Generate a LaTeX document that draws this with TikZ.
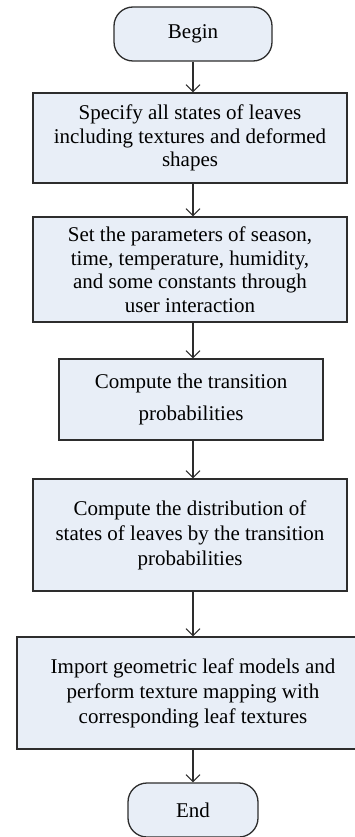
\documentclass[tikz,border=0pt]{standalone}
\usepackage{fontspec}
\setmainfont{Liberation Serif}
\usetikzlibrary{arrows.meta}
\definecolor{boxfill}{RGB}{232,238,247}
\definecolor{boxline}{RGB}{45,45,45}
\begin{document}
\begin{tikzpicture}[
    x=1pt, y=1pt,
    terminal/.style={rectangle, draw=boxline, line width=1.3pt, rounded corners=19pt, fill=boxfill, inner sep=0pt, align=center, font=\fontsize{21}{23.5}\selectfont},
    process/.style={rectangle, draw=boxline, line width=1.3pt, fill=boxfill, inner sep=0pt, align=center, font=\fontsize{21}{23.5}\selectfont},
    arrow/.style={-{Straight Barb[length=7pt, width=14pt, line width=1pt]}, line width=1.2pt, draw=boxline},
]
    \useasboundingbox (0,0) rectangle (354,-837);

    % Start
    \node[terminal, minimum width=158pt, minimum height=54pt] (begin) at (193,-34) {Begin};

    % Steps
    \node[process, minimum width=314pt, minimum height=90pt] (specify) at (190,-138)
        {Specify all states of leaves\\including textures and deformed\\shapes};
    \node[process, minimum width=314pt, minimum height=105pt] (params) at (190,-269.5)
        {Set the parameters of season,\\time, temperature, humidity,\\and some constants through\\user interaction};
    \node[process, minimum width=264pt, minimum height=81pt, font=\fontsize{21}{32}\selectfont] (probs) at (191,-399.5)
        {Compute the transition\\probabilities};
    \node[process, minimum width=314pt, minimum height=112pt, font=\fontsize{21}{25}\selectfont] (distrib) at (190,-535)
        {Compute the distribution of\\states of leaves by the transition\\probabilities};
    \node[process, minimum width=352pt, minimum height=112pt, font=\fontsize{21}{25}\selectfont] (mapping) at (193,-693)
        {Import geometric leaf models and\\perform texture mapping with\\corresponding leaf textures};

    % Stop
    \node[terminal, minimum width=130pt, minimum height=54pt] (end) at (193,-810) {End};

    % Flow
    \draw[arrow] (begin.south) -- (begin.south |- specify.north);
    \draw[arrow] (begin.south |- specify.south) -- (begin.south |- params.north);
    \draw[arrow] (begin.south |- params.south) -- (begin.south |- probs.north);
    \draw[arrow] (begin.south |- probs.south) -- (begin.south |- distrib.north);
    \draw[arrow] (begin.south |- distrib.south) -- (begin.south |- mapping.north);
    \draw[arrow] (mapping.south) -- (end.north);
\end{tikzpicture}
\end{document}
